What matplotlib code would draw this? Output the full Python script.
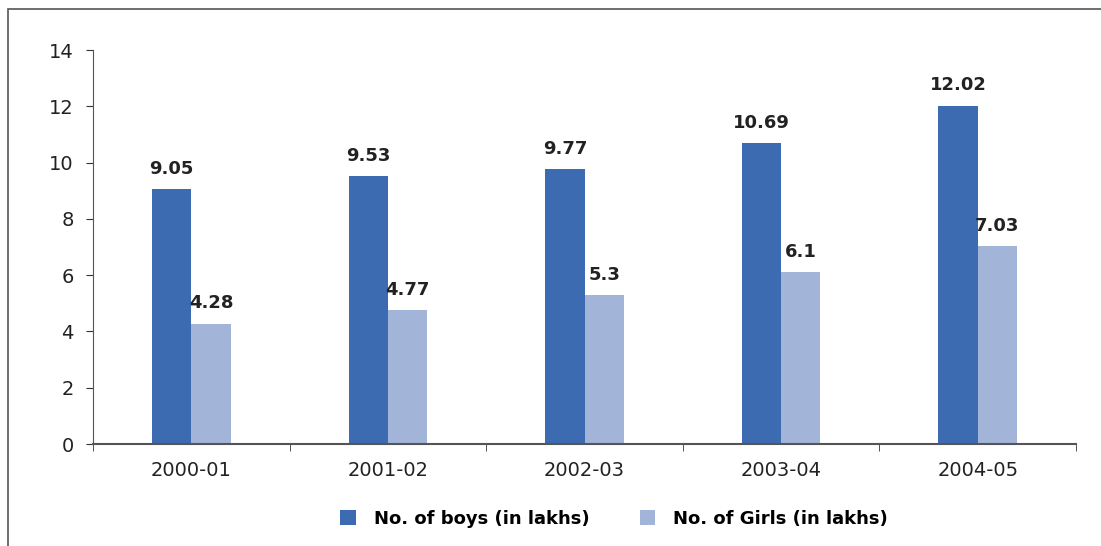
import matplotlib
matplotlib.use("Agg")
import matplotlib.pyplot as plt
import numpy as np
from matplotlib.patches import Rectangle

plt.rcParams['font.family'] = ['DejaVu Sans']

years = ['2000-01', '2001-02', '2002-03', '2003-04', '2004-05']
boys = [9.05, 9.53, 9.77, 10.69, 12.02]
girls = [4.28, 4.77, 5.3, 6.1, 7.03]
boys_labels = ['9.05', '9.53', '9.77', '10.69', '12.02']
girls_labels = ['4.28', '4.77', '5.3', '6.1', '7.03']

boy_col = '#3c6bb2'
girl_col = '#a2b5d8'

fig = plt.figure(figsize=(11.01, 5.46), dpi=100)
ax = fig.add_axes([93/1101, 1 - 444/546, 983/1101, 394/546])

# outer border box (runs past the right and bottom edges)
fig.patches.append(Rectangle((8/1101, -0.05), 1.2, 1 - 9/546 + 0.05, transform=fig.transFigure,
                             fill=False, edgecolor='#555555', lw=1.2))

x = np.arange(len(years))
w = 0.2
b1 = ax.bar(x - w/2, boys, w, color=boy_col, label='No. of boys (in lakhs)')
b2 = ax.bar(x + w/2, girls, w, color=girl_col, label='No. of Girls (in lakhs)')

for rect, lab in zip(b1, boys_labels):
    ax.text(rect.get_x() + rect.get_width()/2, rect.get_height() + 0.4, lab,
            ha='center', va='bottom', fontsize=13, fontweight='bold', color='#222222')
for rect, lab in zip(b2, girls_labels):
    ax.text(rect.get_x() + rect.get_width()/2, rect.get_height() + 0.4, lab,
            ha='center', va='bottom', fontsize=13, fontweight='bold', color='#222222')

ax.set_xlim(-0.5, len(years) - 0.5)
ax.set_ylim(0, 14)
ax.set_yticks(range(0, 15, 2))
ax.set_xticks(x)
ax.set_xticklabels(years)
ax.set_xticks(np.arange(-0.5, len(years), 1), minor=True)
ax.tick_params(axis='x', which='major', length=0, labelsize=14, pad=12, colors='#222222')
ax.tick_params(axis='x', which='minor', length=5, color='#333333')
ax.tick_params(axis='y', labelsize=14, length=5, pad=9, color='#333333', colors='#222222')
for s in ['top', 'right']:
    ax.spines[s].set_visible(False)
ax.spines['left'].set_color('#555555')
ax.spines['bottom'].set_color('#555555')
ax.spines['bottom'].set_linewidth(1.5)

fig.legend(loc='center', bbox_to_anchor=(0.558, 0.05), ncol=2, frameon=False,
           handlelength=0.85, handleheight=0.85, columnspacing=2.8, handletextpad=1.0,
           prop={'size': 13, 'weight': 'bold'})

fig.savefig('out.png', dpi=100)
